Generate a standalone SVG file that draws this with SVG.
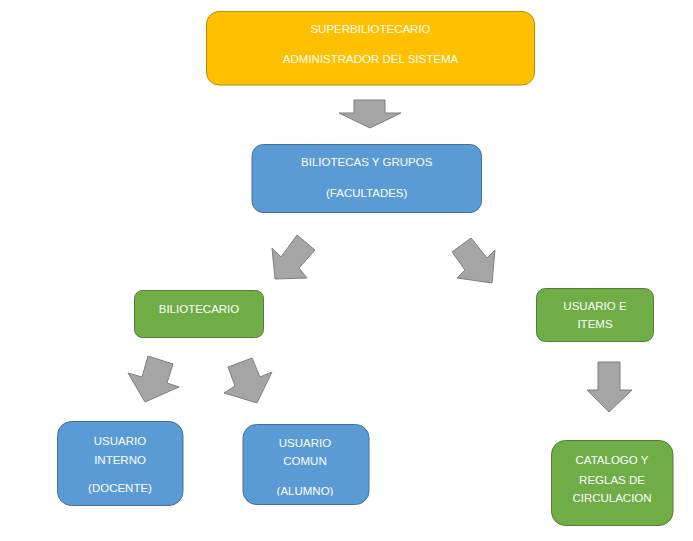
<svg xmlns="http://www.w3.org/2000/svg" width="693" height="541" viewBox="0 0 693 541">
<style>
  text { font-family: "Liberation Sans", Arial, sans-serif; font-size: 11.5px; fill: #FFFFFF; text-anchor: middle; }
  .orange { fill: #FFC000; stroke: #BC8C00; stroke-width: 1; }
  .blue { fill: #5B9BD5; stroke: #41719C; stroke-width: 1; }
  .green { fill: #70AD47; stroke: #507E32; stroke-width: 1; }
  .arrow { fill: #A5A5A5; stroke: #7F7F7F; stroke-width: 1; stroke-linejoin: miter; }
</style>
<defs>
  <clipPath id="clipComun"><rect x="243" y="424" width="126" height="71.8"/></clipPath>
</defs>
<rect width="693" height="541" fill="#FFFFFF"/>

<g id="connectors">
  <polygon class="arrow" points="354,100 385,100 385,113 401,113 370,128 339,113 354,113"/>
  <polygon class="arrow" points="297,235 315,250 299,268 307,278 275,279 272,248 281,257"/>
  <polygon class="arrow" points="471,238 487,258 495,250 492,283 457,278 465,270 452,252"/>
  <polygon class="arrow" points="148,356 173,364 167,383 179,387 145,402 128,373 142,377"/>
  <polygon class="arrow" points="252,358 260,377 272,372 257,403 224,393 235,386 228,367"/>
  <polygon class="arrow" points="598,362 620,362 620,390 632,390 609,412 587,390 598,390"/>
</g>

<g id="superbibliotecario">
  <rect class="orange" x="206.5" y="11.5" width="328" height="73.5" rx="12.5"/>
  <text x="370.5" y="33">SUPERBILIOTECARIO</text>
  <text x="370.5" y="63">ADMINISTRADOR DEL SISTEMA</text>
</g>

<g id="bibliotecas">
  <rect class="blue" x="252" y="144.5" width="229.5" height="68" rx="11.5"/>
  <text x="366.7" y="166">BILIOTECAS Y GRUPOS</text>
  <text x="366.7" y="197">(FACULTADES)</text>
</g>

<g id="bibliotecario">
  <rect class="green" x="134.5" y="290.5" width="129" height="47" rx="8"/>
  <text x="199" y="313">BILIOTECARIO</text>
</g>

<g id="usuario-items">
  <rect class="green" x="536.5" y="288.5" width="117" height="53" rx="9"/>
  <text x="595" y="310">USUARIO E</text>
  <text x="595" y="328">ITEMS</text>
</g>

<g id="usuario-interno">
  <rect class="blue" x="57.5" y="421.5" width="125.5" height="84" rx="14"/>
  <text x="120" y="445">USUARIO</text>
  <text x="120" y="463.5">INTERNO</text>
  <text x="120" y="492">(DOCENTE)</text>
</g>

<g id="usuario-comun">
  <rect class="blue" x="243" y="424.5" width="126" height="80" rx="13.5"/>
  <text x="305" y="446.5">USUARIO</text>
  <text x="305" y="465">COMUN</text>
  <text x="305" y="495" clip-path="url(#clipComun)">(ALUMNO)</text>
</g>

<g id="catalogo">
  <rect class="green" x="551.5" y="440.5" width="121.5" height="85" rx="14"/>
  <text x="612" y="464">CATALOGO Y</text>
  <text x="612" y="484">REGLAS DE</text>
  <text x="612" y="502">CIRCULACION</text>
</g>
</svg>
